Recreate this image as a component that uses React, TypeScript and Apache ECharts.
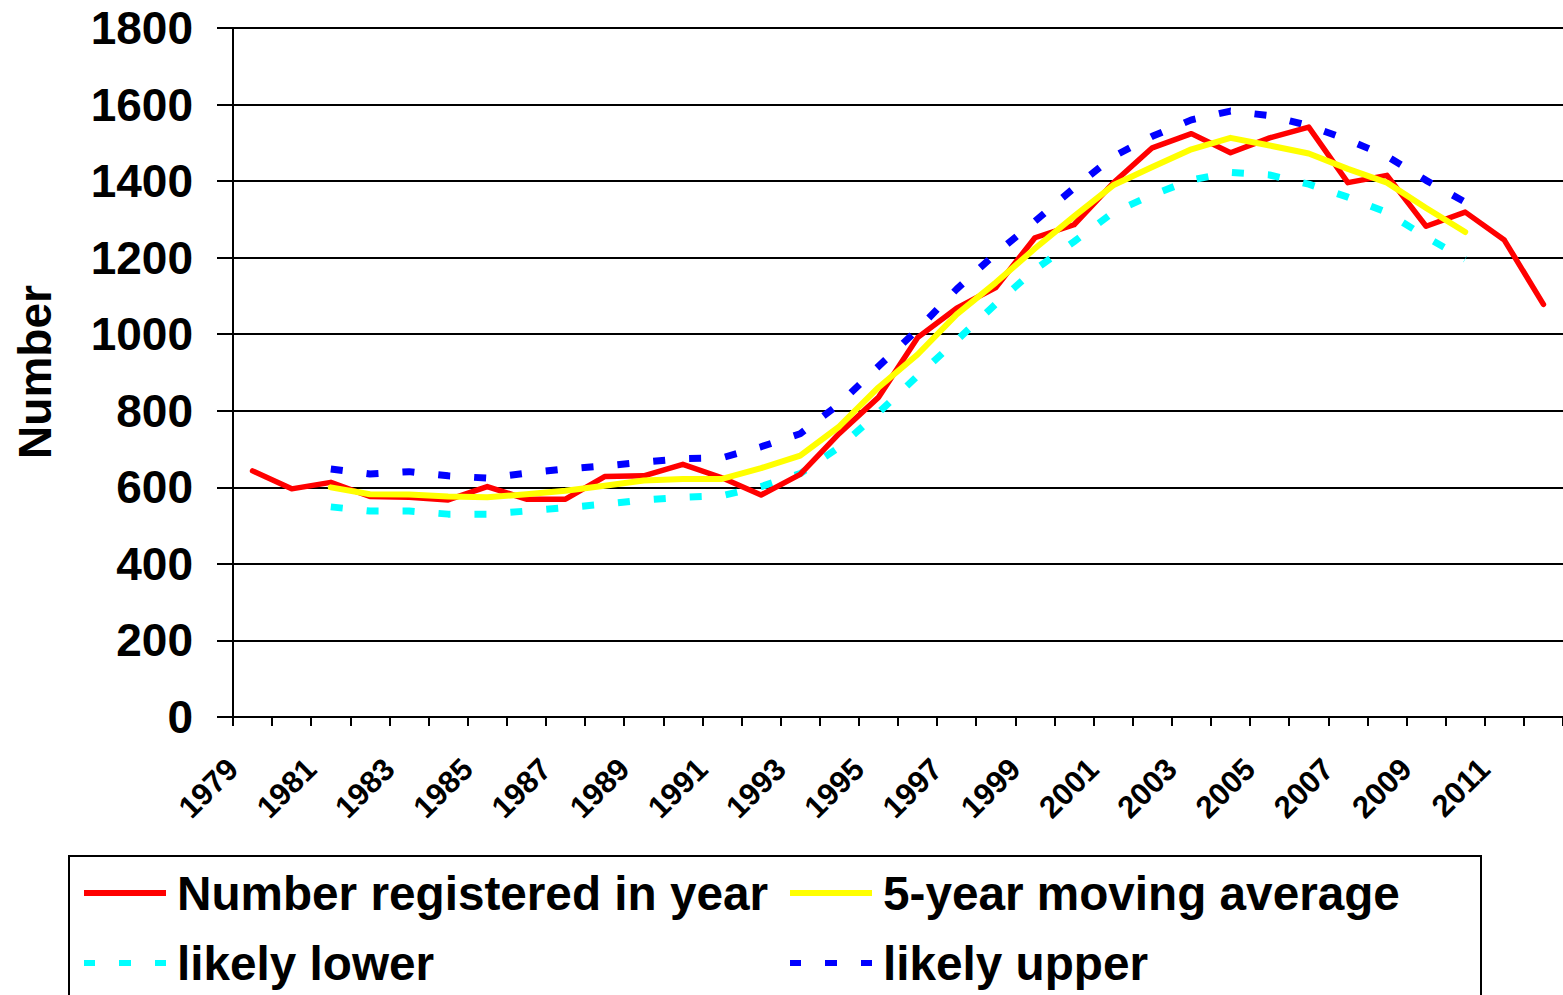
import React, { useEffect, useRef } from 'react';
import * as echarts from 'echarts';

const years = ['1979','1980','1981','1982','1983','1984','1985','1986','1987','1988','1989','1990','1991','1992','1993','1994','1995','1996','1997','1998','1999','2000','2001','2002','2003','2004','2005','2006','2007','2008','2009','2010','2011','2012'];

const registered = [643, 596, 613, 576, 574, 567, 602, 569, 569, 628, 630, 660, 625, 580, 634, 741, 835, 991, 1068, 1122, 1252, 1286, 1395, 1487, 1524, 1474, 1513, 1541, 1396, 1415, 1282, 1319, 1246, 1078];

const movingAvg = [null, null, 600, 582, 581, 576, 574, 582, 591, 604, 618, 622, 622, 650, 683, 759, 861, 947, 1052, 1135, 1224, 1308, 1389, 1437, 1483, 1513, 1493, 1472, 1432, 1396, 1330, 1267, null, null];

const likelyLower = [null, null, 549, 538, 538, 530, 530, 538, 547, 556, 567, 574, 578, 602, 636, 705, 795, 891, 984, 1079, 1169, 1242, 1318, 1364, 1403, 1423, 1416, 1392, 1358, 1318, 1254, 1196, null, null];

const likelyUpper = [null, null, 648, 635, 641, 630, 624, 637, 648, 656, 666, 675, 677, 706, 740, 818, 916, 1012, 1118, 1211, 1295, 1382, 1464, 1517, 1560, 1583, 1571, 1545, 1508, 1465, 1402, 1345, null, null];

const FONT = '"Liberation Sans", Arial, sans-serif';

const SOLID_ICON = 'path://M0,0h82v6h-82z';
const DOT_ICON = 'path://M0,0h11v6h-11z M35,0h12v6h-12z M71,0h11v6h-11z';

export default function App() {
  const ref = useRef<HTMLDivElement>(null);
  useEffect(() => {
    if (!ref.current) return;
    const chart = echarts.init(ref.current, null, { renderer: 'svg' });
    const option: any = {
      animation: false,
      backgroundColor: '#fff',
      textStyle: { fontFamily: FONT },
      grid: { left: 233, right: 0, top: 28, bottom: 278, containLabel: false },
      xAxis: {
        type: 'category',
        data: years,
        boundaryGap: true,
        axisLine: { show: true, lineStyle: { color: '#000', width: 2 } },
        axisTick: { show: true, interval: 0, length: 9, lineStyle: { color: '#000', width: 2 } },
        axisLabel: {
          interval: 1,
          rotate: 45,
          margin: 27,
          padding: [0, 28, 0, 0],
          color: '#000',
          fontSize: 31,
          fontWeight: 'bold',
          fontFamily: FONT,
        },
        splitLine: { show: false },
      },
      yAxis: {
        type: 'value',
        min: 0,
        max: 1800,
        interval: 200,
        axisLine: { show: true, lineStyle: { color: '#000', width: 2 } },
        axisTick: { show: true, length: 16, lineStyle: { color: '#000', width: 2 } },
        axisLabel: {
          margin: 40,
          color: '#000',
          fontSize: 46,
          fontWeight: 'bold',
          fontFamily: FONT,
          formatter: (v: number) => String(v),
        },
        splitLine: { show: true, lineStyle: { color: '#000', width: 2 } },
      },
      legend: {
        left: 84,
        top: 858,
        orient: 'horizontal',
        width: 1400,
        itemGap: 0,
        itemWidth: 82,
        itemHeight: 6,
        padding: 0,
        textStyle: {
          fontSize: 47.7,
          fontWeight: 'bold',
          color: '#000',
          fontFamily: FONT,
          lineHeight: 70,
          padding: [0, 0, 0, 6],
        },
        data: [
          { name: 'Number registered in year', icon: SOLID_ICON, textStyle: { width: 613 } },
          { name: '5-year moving average', icon: SOLID_ICON, textStyle: { width: 510 } },
          { name: 'likely lower', icon: DOT_ICON, textStyle: { width: 613 } },
          { name: 'likely upper', icon: DOT_ICON, textStyle: { width: 510 } },
        ],
      },
      graphic: [
        {
          type: 'rect',
          shape: { x: 69, y: 856, width: 1412, height: 200 },
          style: { fill: 'none', stroke: '#000', lineWidth: 2 },
          silent: true,
        },
        {
          type: 'text',
          x: 35,
          y: 372,
          rotation: Math.PI / 2,
          style: {
            text: 'Number',
            fontSize: 46,
            fontWeight: 'bold',
            fontFamily: FONT,
            fill: '#000',
            align: 'center',
            verticalAlign: 'middle',
          },
        },
      ],
      series: [
        {
          name: 'Number registered in year',
          type: 'line',
          data: registered,
          symbol: 'none',
          z: 4,
          lineStyle: { color: '#FF0000', width: 5.5, cap: 'round', join: 'round' },
          itemStyle: { color: '#FF0000' },
        },
        {
          name: '5-year moving average',
          type: 'line',
          data: movingAvg,
          symbol: 'none',
          z: 5,
          lineStyle: { color: '#FFFF00', width: 6, cap: 'round', join: 'round' },
          itemStyle: { color: '#FFFF00' },
        },
        {
          name: 'likely lower',
          type: 'line',
          data: likelyLower,
          symbol: 'none',
          z: 3,
          lineStyle: { color: '#00FFFF', width: 7, type: [12, 24] },
          itemStyle: { color: '#00FFFF' },
        },
        {
          name: 'likely upper',
          type: 'line',
          data: likelyUpper,
          symbol: 'none',
          z: 3,
          lineStyle: { color: '#0000FF', width: 7, type: [12, 24] },
          itemStyle: { color: '#0000FF' },
        },
      ],
    };
    chart.setOption(option);
    return () => chart.dispose();
  }, []);
  return (
    <div
      ref={ref}
      style={{ position: 'absolute', left: 0, top: 0, width: 1563, height: 995 }}
    />
  );
}
